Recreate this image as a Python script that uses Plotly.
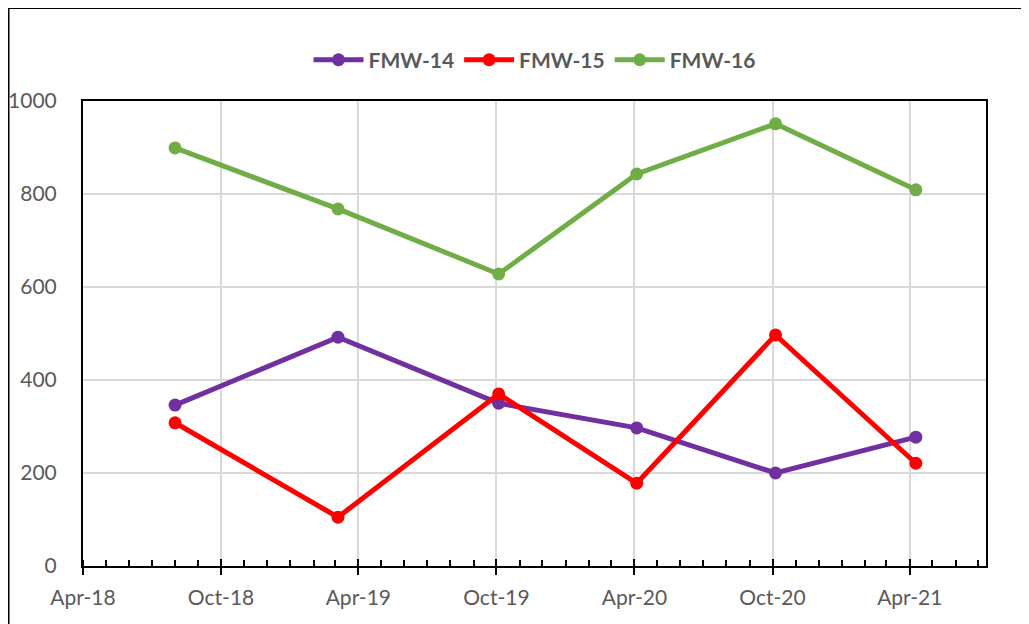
import plotly.graph_objects as go

dates = ["2018-08-01", "2019-03-05", "2019-10-04", "2020-04-04", "2020-10-05", "2021-04-09"]
fmw14 = [346, 492, 350, 297, 200, 277]
fmw15 = [308, 105, 370, 178, 497, 221]
fmw16 = [899, 768, 628, 843, 951, 809]

series = [("FMW-14", fmw14, "#7030A0"), ("FMW-15", fmw15, "#FF0000"), ("FMW-16", fmw16, "#70AD47")]

tick_vals = ["2018-04-01", "2018-10-01", "2019-04-01", "2019-10-01", "2020-04-01", "2020-10-01", "2021-04-01"]
tick_text = ["Apr-18", "Oct-18", "Apr-19", "Oct-19", "Apr-20", "Oct-20", "Apr-21"]
x_range = ["2018-04-01", "2021-07-11"]

FONT = "Lato"
GRAY = "#595959"

fig = go.Figure()
for name, vals, col in series:
    fig.add_trace(go.Scatter(x=dates, y=vals, name=name, mode="lines+markers",
                             line=dict(color=col, width=5),
                             marker=dict(color=col, size=13)))

fig.update_layout(
    width=1021, height=616,
    margin=dict(l=75, r=43, t=93, b=58, autoexpand=False),
    paper_bgcolor="white", plot_bgcolor="white",
    font=dict(family=FONT, color=GRAY, size=21),
    showlegend=True,
    legend=dict(orientation="h", x=0.5, xanchor="center", y=1.088, yanchor="middle",
                font=dict(family=FONT, size=21, color=GRAY, weight="bold"),
                itemwidth=50, tracegroupgap=0),
    xaxis=dict(type="date", range=x_range, tickvals=tick_vals, ticktext=tick_text,
               showgrid=True, gridcolor="#D9D9D9", gridwidth=1.5,
               showline=True, linecolor="black", linewidth=2, mirror=True,
               ticks="outside", ticklen=7, tickwidth=2, tickcolor="black",
               minor=dict(dtick="M1", tick0="2018-04-01", ticks="inside", ticklen=6,
                          tickwidth=1.5, tickcolor="black", showgrid=False),
               tickfont=dict(family=FONT, size=21, color=GRAY), ticklabelstandoff=5,
               zeroline=False, automargin=False),
    xaxis2=dict(type="date", range=x_range, tickvals=tick_vals, showticklabels=False,
                overlaying="x", side="bottom", showgrid=False, showline=False,
                ticks="inside", ticklen=7, tickwidth=2, tickcolor="black", zeroline=False,
                automargin=False),
    yaxis=dict(range=[0, 1000], dtick=200, tick0=0, showgrid=True, gridcolor="#D9D9D9",
               gridwidth=1.5, showline=True, linecolor="black", linewidth=2, mirror=True,
               ticks="", tickfont=dict(family=FONT, size=21, color=GRAY),
               zeroline=False, ticklabelstandoff=20, automargin=False),
)

# helper trace so the overlay axis draws its inside major ticks
fig.add_trace(go.Scatter(x=[dates[0]], y=[None], xaxis="x2", showlegend=False,
                         hoverinfo="skip", mode="markers"))

fig.add_shape(type="rect", xref="paper", yref="paper", x0=-0.0825, y0=-0.3, x1=1.2, y1=1.2,
              line=dict(color="black", width=2), fillcolor="rgba(0,0,0,0)", layer="below")

fig.write_html("out.html")
